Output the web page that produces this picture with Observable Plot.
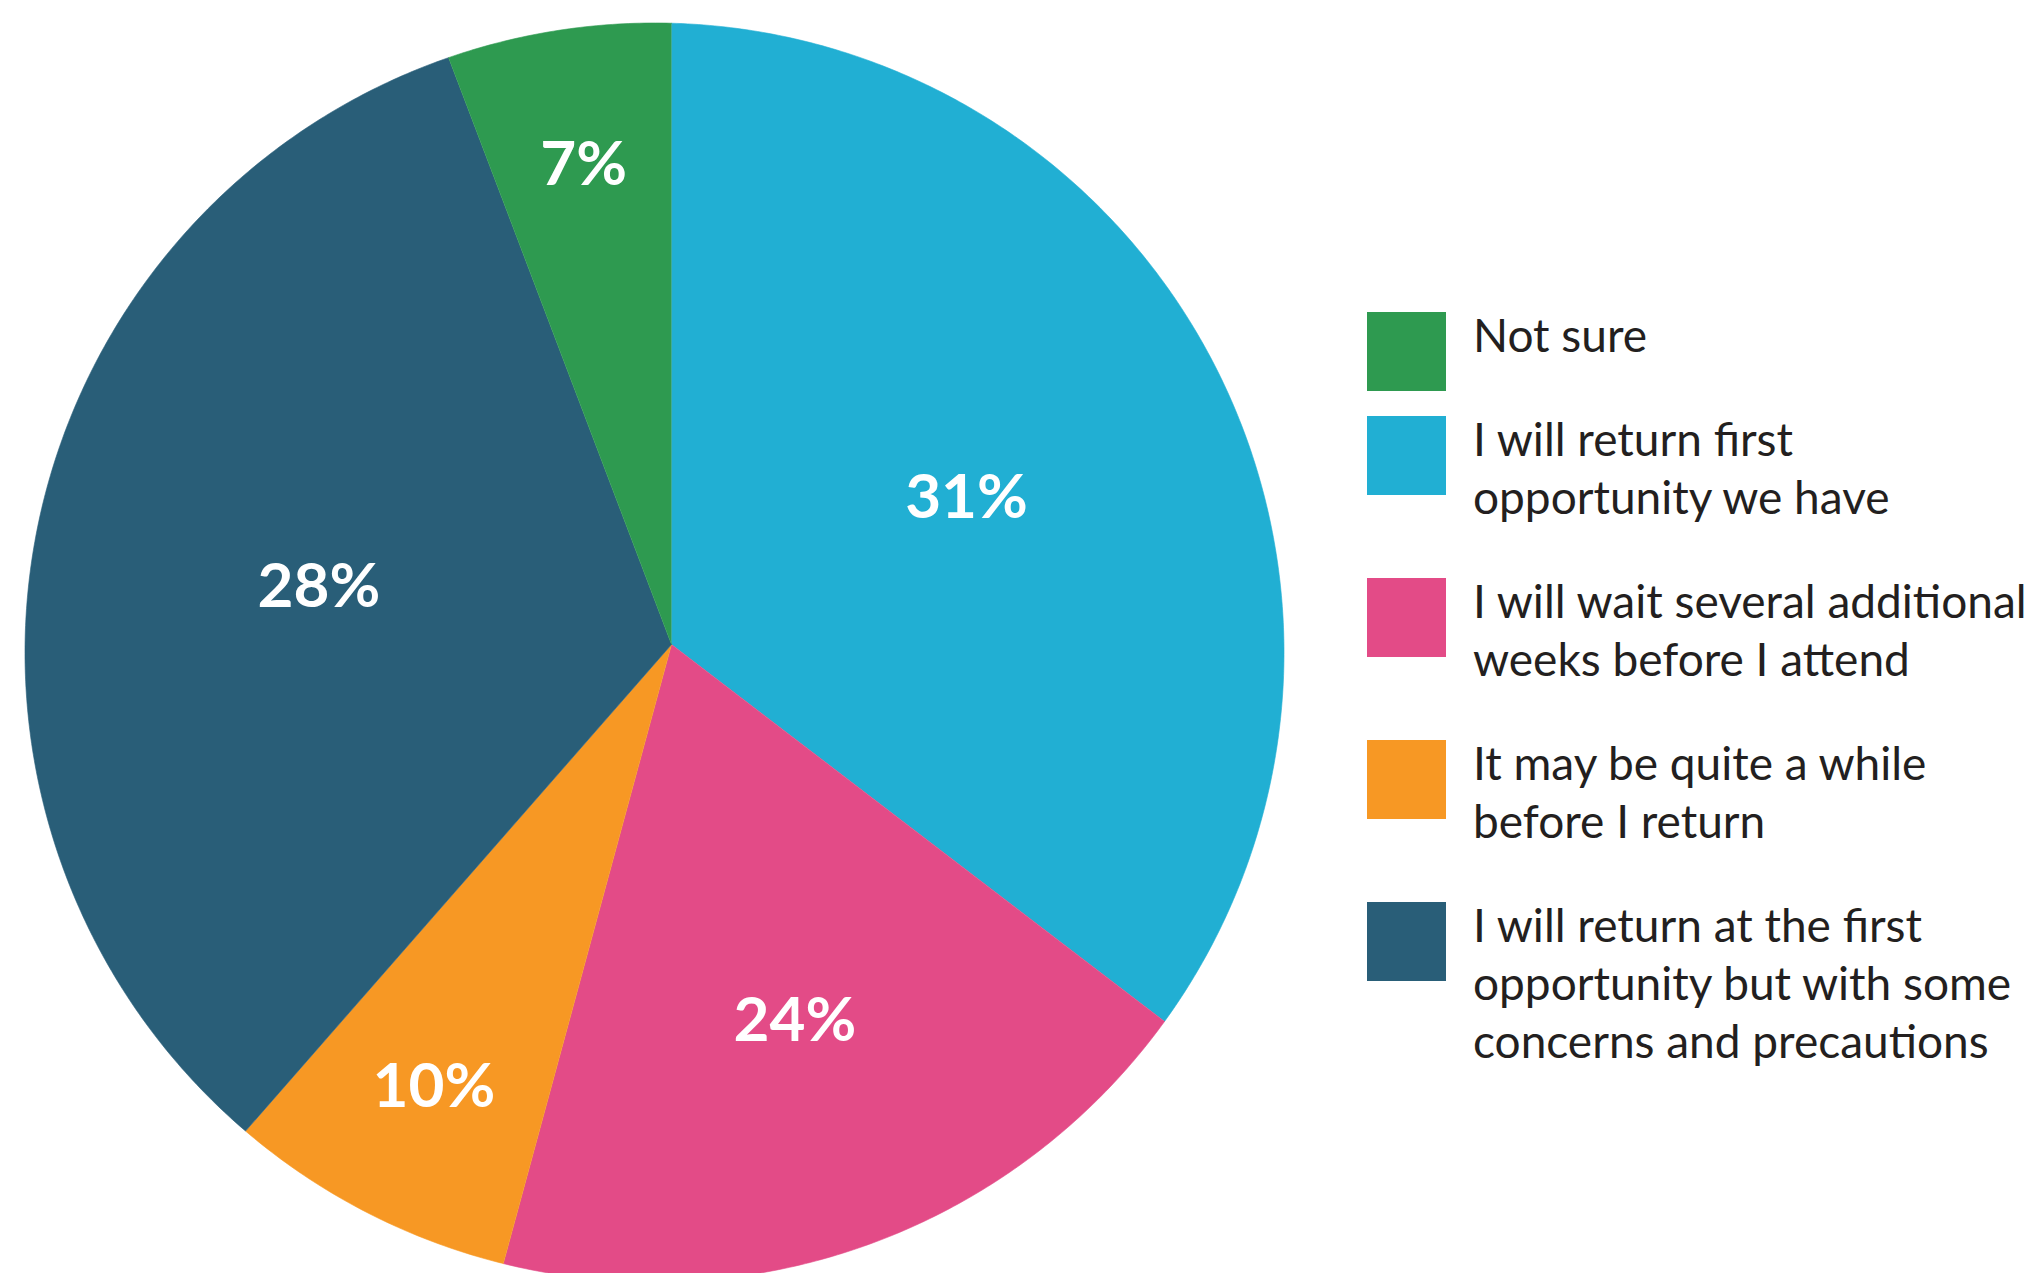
<!DOCTYPE html>
<html>
<head>
<meta charset="utf-8">
<script src="https://cdn.jsdelivr.net/npm/d3@7"></script>
<script src="https://cdn.jsdelivr.net/npm/@observablehq/plot@0.6"></script>
<style>
  html, body { margin: 0; padding: 0; background: #ffffff; overflow: hidden; }
  #wrap { position: relative; width: 2033px; height: 1273px; }
  #chart { position: absolute; left: 0; top: 0; }
  #legend { position: absolute; left: 1367px; top: 306px; display: flex; flex-direction: column; gap: 46px; }
  .item { position: relative; padding-left: 106px; }
  .sw { position: absolute; left: 0; top: 6px; width: 79px; height: 79px; }
  .lt { font-family: Lato, "Open Sans", sans-serif; font-size: 46px; line-height: 58px; color: #231f20; white-space: nowrap; }
</style>
</head>
<body>
<div id="wrap"><div id="chart"></div><div id="legend"></div></div>
<script>
// ---- data (legend order) ----
const categories = [
  "Not sure",
  "I will return first opportunity we have",
  "I will wait several additional weeks before I attend",
  "It may be quite a while before I return",
  "I will return at the first opportunity but with some concerns and precautions"
];
const legendLines = [
  ["Not sure"],
  ["I will return first", "opportunity we have"],
  ["I will wait several additional", "weeks before I attend"],
  ["It may be quite a while", "before I return"],
  ["I will return at the first", "opportunity but with some", "concerns and precautions"]
];
const colors = ["#2e9a50", "#21afd3", "#e34b87", "#f79824", "#295e78"];
// printed percentage labels
const percentLabels = [7, 31, 24, 10, 28];
// slice angles as drawn in the picture (degrees)
const sliceDegrees = [20.8, 127.4, 67.8, 26.0, 118.0];
// clockwise from 12 o'clock
const pieOrder = [1, 2, 3, 4, 0];

// ---- layout ----
const CX = 654, CY = 652, R = 629.5;   // outer circle (px)
const VX = 671, VY = 644;              // apex of the slices (px)
const vx = (VX - CX) / R, vy = -(VY - CY) / R;

function hit(th) {
  const dx = Math.sin(th), dy = Math.cos(th);
  const b = vx * dx + vy * dy;
  const c = vx * vx + vy * vy - 1;
  const t = -b + Math.sqrt(b * b - c);
  return [vx + t * dx, vy + t * dy, t];
}

const pts = [], labels = [];
let acc = 0;
for (const i of pieOrder) {
  const deg = sliceDegrees[i];
  const a0 = acc * Math.PI / 180, a1 = (acc + deg) * Math.PI / 180;
  acc += deg;
  const ring = [[vx, vy]];
  const n = Math.max(2, Math.ceil(deg / 0.5));
  for (let k = 0; k <= n; k++) {
    const p = hit(a0 + (a1 - a0) * k / n);
    ring.push([p[0], p[1]]);
  }
  ring.forEach(p => pts.push({cat: categories[i], x: p[0], y: p[1]}));
  let lx, ly;
  if (deg / 360 < 0.08) {
    const am = (a0 + a1) / 2, p = hit(am);
    lx = vx + 0.78 * p[2] * Math.sin(am);
    ly = vy + 0.78 * p[2] * Math.cos(am);
  } else {
    [lx, ly] = d3.polygonCentroid(ring);
  }
  labels.push({x: lx, y: ly, text: percentLabels[i] + "%"});
}

const plot = Plot.plot({
  width: 2033,
  height: 1273,
  margin: 0,
  x: {domain: [-1, 1], range: [CX - R, CX + R], axis: null},
  y: {domain: [-1, 1], range: [CY + R, CY - R], axis: null},
  color: {domain: categories, range: colors},
  style: {background: "transparent", overflow: "hidden"},
  marks: [
    Plot.line(pts, {x: "x", y: "y", z: "cat", fill: "cat", stroke: "cat", strokeWidth: 0.6}),
    Plot.text(labels, {x: "x", y: "y", text: "text", fill: "white", fontSize: 62, fontWeight: 700, fontFamily: "Lato"})
  ]
});
document.getElementById("chart").appendChild(plot);

// ---- legend ----
const legend = d3.select("#legend");
categories.forEach((c, i) => {
  const item = legend.append("div").attr("class", "item");
  item.append("div").attr("class", "sw").style("background", colors[i]);
  const t = item.append("div").attr("class", "lt");
  legendLines[i].forEach(line => t.append("div").text(line));
});
</script>
</body>
</html>
